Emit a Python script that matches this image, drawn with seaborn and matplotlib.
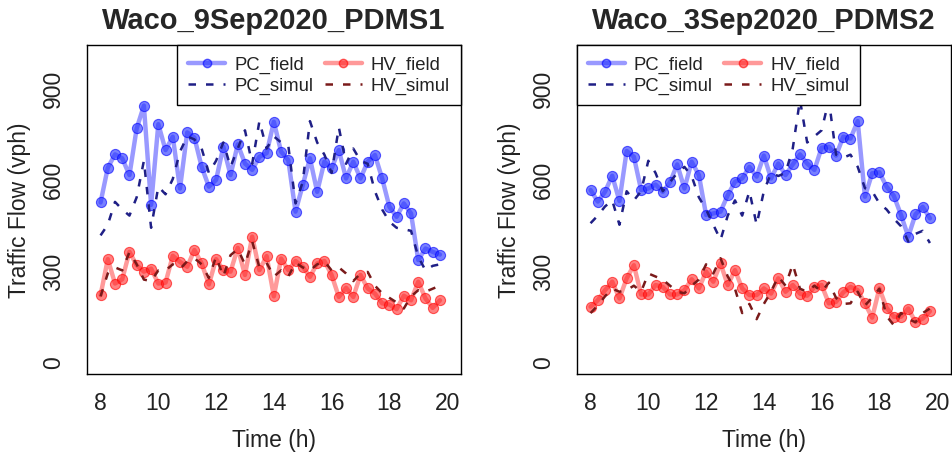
import numpy as np
import pandas as pd
import matplotlib
matplotlib.use("Agg")
import matplotlib.pyplot as plt
from matplotlib.lines import Line2D
import seaborn as sns

sns.set_style("white")
plt.rcParams['font.family'] = ['Liberation Sans', 'DejaVu Sans']

# ---------------- data ----------------
time_h = [8.0, 8.25, 8.5, 8.75, 9.0, 9.25, 9.5, 9.75, 10.0, 10.25, 10.5, 10.75,
          11.0, 11.25, 11.5, 11.75, 12.0, 12.25, 12.5, 12.75, 13.0, 13.25, 13.5, 13.75,
          14.0, 14.25, 14.5, 14.75, 15.0, 15.25, 15.5, 15.75, 16.0, 16.25, 16.5, 16.75,
          17.0, 17.25, 17.5, 17.75, 18.0, 18.25, 18.5, 18.75, 19.0, 19.25, 19.5, 19.75]

titles = ["Waco_9Sep2020_PDMS1", "Waco_3Sep2020_PDMS2"]

pc_field_1 = [523, 637, 681, 668, 613, 766, 841, 515, 780, 695, 739, 569,
              753, 736, 640, 575, 597, 706, 613, 714, 651, 630, 673, 685,
              788, 690, 662, 493, 580, 668, 558, 657, 635, 695, 602, 657,
              602, 657, 679, 602, 509, 476, 520, 487, 334, 372, 361, 352]
pc_simul_1 = [415, 450, 525, 500, 480, 540, 660, 440, 575, 550, 600, 690,
              740, 730, 700, 620, 660, 720, 640, 700, 760, 650, 790, 700,
              740, 720, 710, 520, 590, 790, 720, 680, 620, 770, 650, 700,
              660, 650, 560, 500, 460, 440, 435, 430, 345, 300, 315, 320]
hv_field_1 = [219, 337, 257, 271, 361, 317, 296, 306, 257, 260, 348, 328,
              312, 367, 323, 254, 337, 301, 296, 374, 285, 411, 301, 347,
              215, 339, 301, 331, 312, 279, 323, 331, 285, 213, 243, 213,
              285, 241, 224, 192, 188, 173, 217, 202, 263, 208, 177, 202]
hv_simul_1 = [215, 290, 310, 300, 360, 320, 270, 265, 300, 300, 320, 305,
              330, 340, 320, 275, 345, 280, 350, 370, 320, 395, 310, 325,
              280, 300, 280, 325, 310, 300, 320, 330, 300, 310, 290, 265,
              290, 295, 250, 225, 210, 195, 175, 215, 235, 230, 240, 250]

pc_field_2 = [564, 526, 558, 611, 528, 692, 673, 564, 569, 582, 558, 589,
              648, 569, 657, 613, 482, 487, 493, 547, 591, 602, 640, 608,
              677, 602, 651, 613, 648, 681, 651, 630, 703, 706, 677, 739,
              733, 790, 542, 619, 622, 575, 545, 482, 411, 484, 509, 471]
pc_simul_2 = [455, 480, 510, 530, 450, 560, 530, 560, 660, 620, 560, 590,
              620, 640, 610, 540, 500, 450, 400, 480, 530, 480, 560, 450,
              560, 620, 610, 620, 700, 860, 720, 740, 760, 860, 680, 670,
              680, 640, 570, 560, 520, 500, 470, 445, 395, 420, 430, 390]
hv_field_2 = [181, 202, 235, 263, 208, 274, 317, 221, 221, 252, 246, 221,
              221, 235, 271, 241, 296, 263, 323, 252, 301, 241, 219, 219,
              241, 224, 274, 230, 252, 224, 217, 246, 252, 192, 197, 228,
              246, 235, 192, 145, 241, 177, 148, 148, 175, 131, 142, 166]
hv_simul_2 = [160, 185, 215, 240, 230, 235, 250, 230, 290, 280, 270, 250,
              230, 225, 250, 270, 320, 290, 340, 280, 240, 160, 190, 140,
              190, 230, 280, 250, 320, 240, 230, 250, 230, 260, 210, 190,
              192, 230, 185, 210, 240, 150, 120, 160, 140, 130, 160, 175]

x_ticks = [8, 9, 10, 11, 12, 13, 14, 15, 16, 17, 18, 19, 20]
x_tick_labels = ["8", "", "10", "", "12", "", "14", "", "16", "", "18", "", "20"]
y_ticks = [0, 300, 600, 900]
series_names = ["PC_field", "HV_field", "PC_simul", "HV_simul"]

# ---------------- styling ----------------
blue_line = (0, 0, 1, 0.40)
blue_mark = (0.15, 0.2, 1, 0.62)
red_line = (1, 0, 0, 0.40)
red_mark = (1, 0.1, 0.1, 0.55)
navy = "#1f1f86"
dred = "#7a1a1a"
dash = (3.0, 4.0)

fig = plt.figure(figsize=(9.53, 4.56), dpi=100)
W, H = 953, 456
panels = [
    (86.7, 46, 461, 375),
    (576.7, 46, 951, 375),
]
datasets = [
    (pc_field_1, pc_simul_1, hv_field_1, hv_simul_1),
    (pc_field_2, pc_simul_2, hv_field_2, hv_simul_2),
]

for k, ((x0, y0, x1, y1), (pcf, pcs, hvf, hvs)) in enumerate(zip(panels, datasets)):
    ax = fig.add_axes([x0 / W, 1 - y1 / H, (x1 - x0) / W, (y1 - y0) / H])
    df = pd.DataFrame({"t": time_h, "pcf": pcf, "pcs": pcs, "hvf": hvf, "hvs": hvs})

    sns.lineplot(data=df, x="t", y="pcf", ax=ax, color=blue_line, linewidth=3.2,
                 marker="o", markersize=7.3, markerfacecolor=blue_mark,
                 markeredgecolor=(0, 0, 1, 0.6), markeredgewidth=0.8)
    sns.lineplot(data=df, x="t", y="hvf", ax=ax, color=red_line, linewidth=3.2,
                 marker="o", markersize=7.3, markerfacecolor=red_mark,
                 markeredgecolor=(1, 0, 0, 0.6), markeredgewidth=0.8)
    sns.lineplot(data=df, x="t", y="pcs", ax=ax, color=navy, linewidth=1.8)
    sns.lineplot(data=df, x="t", y="hvs", ax=ax, color=dred, linewidth=1.8)
    for ln in ax.lines[2:]:
        ln.set_dashes(dash)

    ax.set_xlim(7.52, 20.48)
    ax.set_ylim(-40, 1040)
    ax.set_xticks(x_ticks)
    ax.set_xticklabels(x_tick_labels)
    ax.set_yticks(y_ticks)
    ax.set_yticklabels([str(v) for v in y_ticks], rotation=90, va="center")
    ax.tick_params(axis="both", direction="out", length=5.5, width=0.8,
                   color="black", labelsize=16.5, labelcolor="#222222")
    ax.tick_params(axis="x", pad=7)
    ax.tick_params(axis="y", pad=10)
    for s in ax.spines.values():
        s.set_visible(True)
        s.set_color("black")
        s.set_linewidth(1.0)
    ax.set_xlabel("Time (h)", fontsize=16.5, color="#222222", labelpad=10)
    ax.set_ylabel("Traffic Flow (vph)", fontsize=16.5, color="#222222", labelpad=8)
    ax.set_title(titles[k], fontsize=21, fontweight="bold", pad=12)
    ax.grid(False)

    handles = [
        Line2D([], [], color=blue_line, lw=3.2, marker="o", markersize=6,
               markerfacecolor=blue_mark, markeredgecolor=(0, 0, 1, 0.6)),
        Line2D([], [], color=navy, lw=1.8, dashes=dash),
        Line2D([], [], color=red_line, lw=3.2, marker="o", markersize=6,
               markerfacecolor=red_mark, markeredgecolor=(1, 0, 0, 0.6)),
        Line2D([], [], color=dred, lw=1.8, dashes=dash),
    ]
    labels = [series_names[0], series_names[2], series_names[1], series_names[3]]
    loc = "upper right" if k == 0 else "upper left"
    leg = ax.legend(handles, labels, loc=loc, ncol=2, fontsize=13.3,
                    frameon=True, fancybox=False, borderaxespad=0,
                    handlelength=2.0, handletextpad=0.5, columnspacing=0.6,
                    labelspacing=0.2, borderpad=0.6, framealpha=1)
    leg.get_frame().set_edgecolor("black")
    leg.get_frame().set_linewidth(1.0)
    for t in leg.get_texts():
        t.set_color("#222222")

fig.savefig("out.png", dpi=100)
